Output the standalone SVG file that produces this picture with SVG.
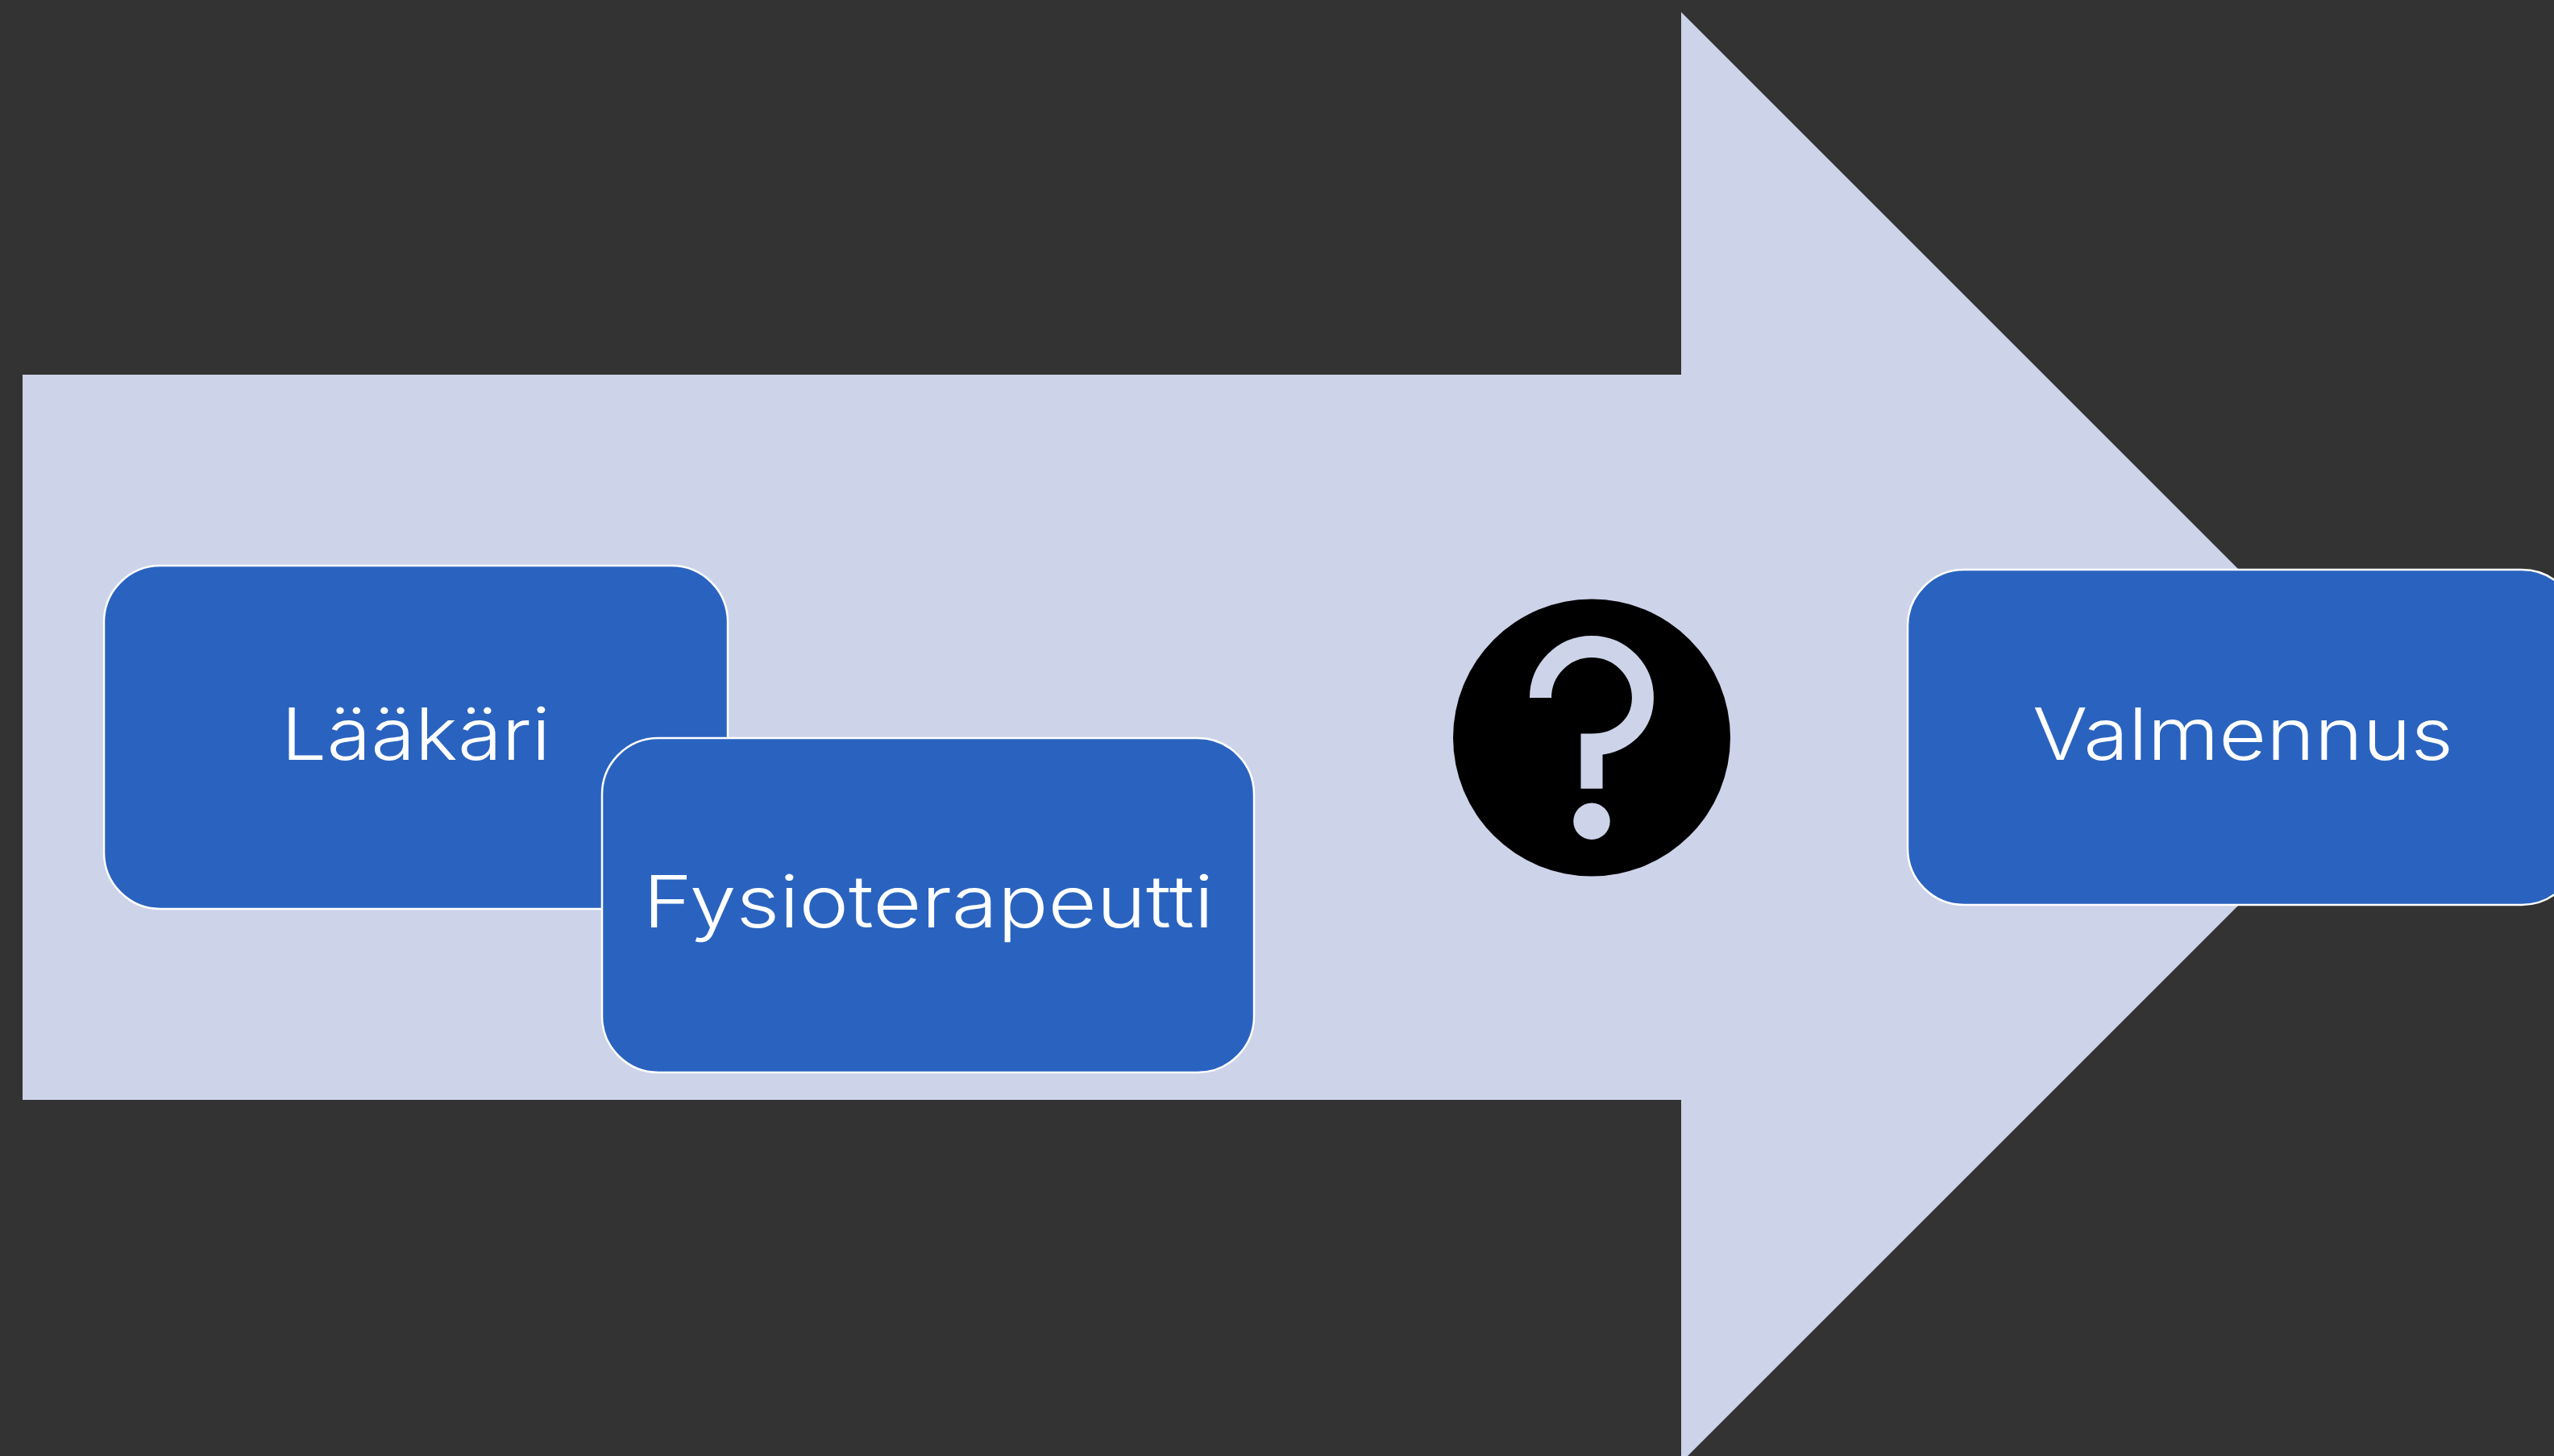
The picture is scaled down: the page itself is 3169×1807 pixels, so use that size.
<svg xmlns="http://www.w3.org/2000/svg" width="3169" height="1807" viewBox="0 0 3169 1807">
<style>
.box{fill:#2a63bf;stroke:#ffffff;stroke-width:2.5}
.lbl{font-family:"Inter","Liberation Sans",sans-serif;font-size:89px;font-weight:350;fill:#ffffff}
</style>
<rect width="3169" height="1807" fill="#333333"/>
<path id="arrow" d="M28 465H2086V15L2986 915L2086 1815V1365H28Z" fill="#cdd3e9"/>
<g id="node-laakari"><rect class="box" x="129" y="702" width="774" height="426" rx="70"/><text class="lbl" x="349" y="943" textLength="334" lengthAdjust="spacingAndGlyphs">Lääkäri</text></g>
<g id="node-fysioterapeutti"><rect class="box" x="747" y="916" width="809" height="415" rx="70"/><text class="lbl" x="798" y="1151" textLength="708" lengthAdjust="spacingAndGlyphs">Fysioterapeutti</text></g>
<g id="node-question"><circle cx="1975" cy="915.5" r="172" fill="#000000"/><path d="M1911.5 866C1911.5 831 1940 802.5 1975 802.5C2010 802.5 2038.4 831 2038.4 866C2038.4 901 2010 924 1975 924V978.7" fill="none" stroke="#cdd3e9" stroke-width="27"/><circle cx="1975" cy="1019.3" r="22.7" fill="#cdd3e9"/></g>
<g id="node-valmennus"><rect class="box" x="2367" y="707" width="832" height="416" rx="70"/><text class="lbl" x="2522" y="943" textLength="522" lengthAdjust="spacingAndGlyphs">Valmennus</text></g>
<g id="connectors"></g>
</svg>
